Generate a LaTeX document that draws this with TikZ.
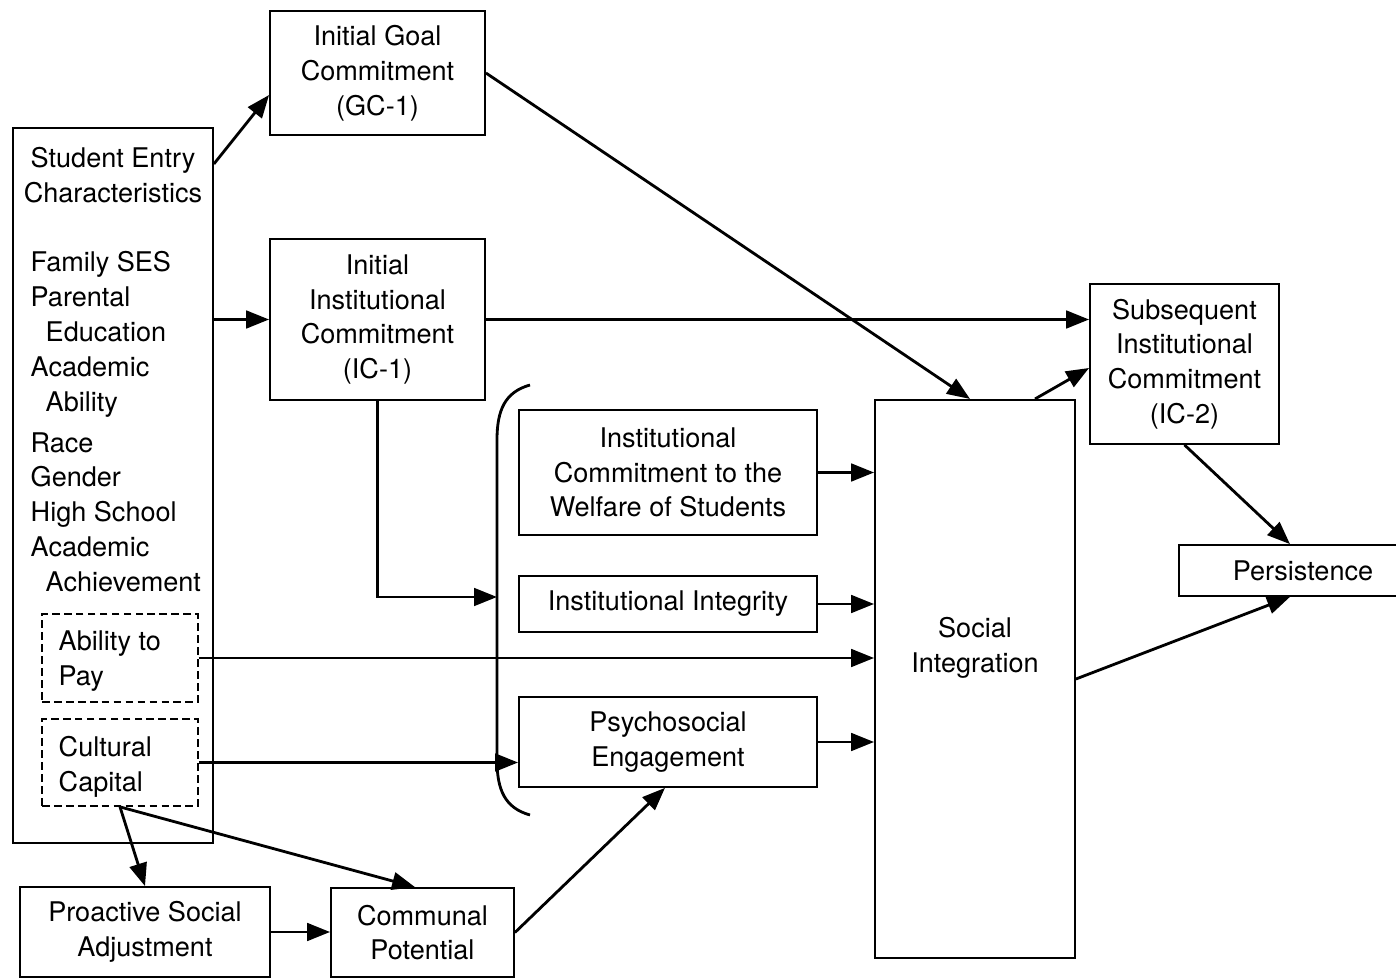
\documentclass[tikz,border=0pt]{standalone}
\usepackage{fontspec}
\setmainfont{TeX Gyre Heros}
\usetikzlibrary{arrows.meta}
\begin{document}
\begin{tikzpicture}[x=0.01cm,y=-0.01cm,font=\fontsize{7.7pt}{9.9pt}\selectfont,
  box/.style={draw,line width=0.5pt,align=center,inner sep=0pt},
  dbox/.style={draw,line width=0.5pt,dash pattern=on 2.2pt off 1.2pt,inner sep=0pt},
  arr/.style={line width=0.8pt,-{Triangle[length=6.5pt,width=5pt]}}]
\useasboundingbox (0,0) rectangle (1396,979);
\node[box,minimum width=2cm,minimum height=7.15cm] (stu) at (113,485.5) {};
\node[align=center] at (113,175) {Student Entry\\Characteristics};
\node[align=left,anchor=north west,inner sep=0pt] at (30,251) {Family SES\\Parental\\\hspace*{0.15cm}Education\\Academic\\\hspace*{0.15cm}Ability\\[0.06cm]Race\\Gender\\High School\\Academic\\\hspace*{0.15cm}Achievement};
\node[dbox,minimum width=1.56cm,minimum height=0.88cm] (pay) at (120,658) {};
\node[align=left,anchor=west,inner sep=0pt] at (58,661) {Ability to\\Pay};
\node[dbox,minimum width=1.56cm,minimum height=0.87cm] (cap) at (120,762.5) {};
\node[align=left,anchor=west,inner sep=0pt] at (58,767) {Cultural\\Capital};
\node[box,minimum width=2.15cm,minimum height=1.24cm] (gc1) at (377.5,73) {Initial Goal\\Commitment\\(GC-1)};
\node[box,minimum width=2.15cm,minimum height=1.61cm] (ic1) at (377.5,319.5) {Initial\\Institutional\\Commitment\\(IC-1)};
\node[box,minimum width=2.98cm,minimum height=1.25cm] (welf) at (668,472.5) {Institutional\\Commitment to the\\Welfare of Students};
\node[box,minimum width=2.98cm,minimum height=0.56cm] (integ) at (668,604) {Institutional Integrity};
\node[box,minimum width=2.98cm,minimum height=0.90cm] (psy) at (668,742) {Psychosocial\\Engagement};
\node[box,minimum width=2cm,minimum height=5.58cm] (si) at (975,679) {};
\node[align=center] at (975,648) {Social\\Integration};
\node[box,minimum width=1.89cm,minimum height=1.60cm] (ic2) at (1184.5,364) {Subsequent\\Institutional\\Commitment\\(IC-2)};
\node[box,minimum width=2.48cm,minimum height=0.51cm] (pers) at (1303,570.5) {Persistence};
\node[box,minimum width=2.5cm,minimum height=0.90cm] (pro) at (145,932) {Proactive Social\\Adjustment};
\node[box,minimum width=1.83cm,minimum height=0.89cm] (com) at (422.5,932.5) {Communal\\Potential};
\draw[line width=0.8pt] (530,385) .. controls (505,392) and (497,410) .. (497,440) -- (497,760) .. controls (497,790) and (505,808) .. (530,815);
\coordinate (brk) at (497,597);
\draw[arr] ([yshift=-0.37cm]stu.north east) -- ([yshift=-0.22cm]gc1.west);
\draw[arr] (stu.east |- ic1.west) -- (ic1.west);
\draw[arr] (gc1.east) -- ([xshift=-0.05cm]si.north);
\draw[arr] (ic1.east) -- (ic1.east -| ic2.west);
\draw[arr] (ic1.south) |- (brk);
\draw[arr] (pay.east) -- (pay.east -| si.west);
\draw[arr] (cap.east) -- (cap.east -| psy.west);
\draw[arr] (welf.east) -- (welf.east -| si.west);
\draw[arr] (integ.east) -- (integ.east -| si.west);
\draw[arr] (psy.east) -- (psy.east -| si.west);
\draw[arr] ([xshift=0.6cm]si.north) -- ([yshift=-0.04cm]ic2.west);
\draw[arr] (ic2.south) -- ([xshift=-0.13cm]pers.north);
\draw[arr] (si.east) -- ([xshift=-0.13cm]pers.south);
\draw[arr] (cap.south) -- (pro.north);
\draw[arr] (cap.south) -- ([xshift=-0.075cm]com.north);
\draw[arr] (pro.east) -- (pro.east -| com.west);
\draw[arr] (com.east) -- ([xshift=-0.03cm]psy.south);
\end{tikzpicture}
\end{document}
